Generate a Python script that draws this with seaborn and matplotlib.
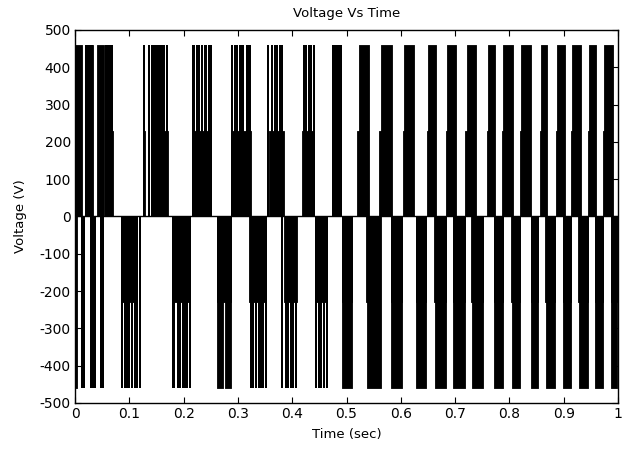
import matplotlib
matplotlib.use("Agg")
import matplotlib.pyplot as plt
import seaborn as sns
import pandas as pd

# levels of the 3-level inverter output (V)
full_level = 460
half_level = 230

# early bursts: single switching pulses to the full level (time in sec)
pos_pulses = [0.020, 0.024, 0.028, 0.031,
              0.057, 0.061, 0.064, 0.068,
              0.127, 0.136, 0.141, 0.145, 0.149, 0.152, 0.156, 0.160, 0.163, 0.169,
              0.217, 0.220, 0.224, 0.228, 0.233, 0.239, 0.242, 0.246, 0.250,
              0.290, 0.295, 0.299, 0.303, 0.306, 0.310, 0.316, 0.319, 0.323,
              0.356, 0.363, 0.369, 0.372, 0.378, 0.382,
              0.422, 0.426, 0.431, 0.435, 0.440,
              0.475, 0.479, 0.483, 0.486, 0.490]
neg_pulses = [0.000, 0.002, 0.013, 0.017,
              0.029, 0.033, 0.037, 0.048, 0.051,
              0.086, 0.092, 0.095, 0.099, 0.105, 0.110, 0.114, 0.119,
              0.180, 0.183, 0.189, 0.193, 0.198, 0.202, 0.207, 0.211,
              0.325, 0.328, 0.334, 0.338, 0.343, 0.347, 0.352,
              0.382, 0.389, 0.393, 0.398, 0.402, 0.407,
              0.444, 0.450, 0.453, 0.459, 0.464]

# spans where the output sits at the half level (dense switching)
pos_half = [(0.055, 0.070), (0.125, 0.128), (0.147, 0.171), (0.220, 0.250),
            (0.288, 0.325), (0.358, 0.385), (0.418, 0.440), (0.473, 0.488),
            (0.519, 0.538), (0.560, 0.578), (0.604, 0.620), (0.648, 0.660),
            (0.683, 0.697), (0.719, 0.736), (0.758, 0.771), (0.787, 0.804),
            (0.820, 0.837), (0.857, 0.868), (0.886, 0.899), (0.914, 0.928),
            (0.945, 0.958), (0.972, 0.987)]
neg_half = [(0.028, 0.037), (0.084, 0.114), (0.178, 0.211), (0.261, 0.288),
            (0.321, 0.352), (0.385, 0.409), (0.444, 0.464), (0.492, 0.510),
            (0.536, 0.558), (0.582, 0.602), (0.628, 0.646), (0.661, 0.683),
            (0.697, 0.719), (0.730, 0.752), (0.771, 0.789), (0.802, 0.820),
            (0.839, 0.853), (0.866, 0.884), (0.899, 0.914), (0.927, 0.945),
            (0.958, 0.972), (0.987, 0.998)]

# spans that are solid at the full level (switching too fast to resolve)
pos_full = [(0.000, 0.012), (0.018, 0.024), (0.026, 0.033), (0.040, 0.053),
            (0.523, 0.541), (0.563, 0.583), (0.606, 0.624), (0.650, 0.664),
            (0.685, 0.701), (0.721, 0.739), (0.760, 0.774), (0.789, 0.807),
            (0.822, 0.840), (0.858, 0.870), (0.888, 0.903), (0.916, 0.932),
            (0.947, 0.960), (0.974, 0.991)]
neg_full = [(0.000, 0.003), (0.261, 0.272), (0.277, 0.288), (0.492, 0.510),
            (0.538, 0.563), (0.582, 0.602), (0.628, 0.646), (0.663, 0.683),
            (0.697, 0.719), (0.732, 0.752), (0.771, 0.789), (0.804, 0.820),
            (0.839, 0.853), (0.868, 0.884), (0.899, 0.914), (0.929, 0.945),
            (0.958, 0.972), (0.987, 0.998)]

xticks = [0, 0.1, 0.2, 0.3, 0.4, 0.5, 0.6, 0.7, 0.8, 0.9, 1]
yticks = [-500, -400, -300, -200, -100, 0, 100, 200, 300, 400, 500]

sns.set_theme(style="ticks")
plt.rcParams['font.family'] = ['DejaVu Sans']
plt.rcParams['xtick.direction'] = 'in'
plt.rcParams['ytick.direction'] = 'in'
plt.rcParams['axes.unicode_minus'] = False
for key in ['text.color', 'axes.labelcolor', 'xtick.color', 'ytick.color',
            'xtick.labelcolor', 'ytick.labelcolor']:
    plt.rcParams[key] = 'black'

fig = plt.figure(figsize=(6.22, 4.53), dpi=100)
ax = fig.add_axes([0.1206, 0.1104, 0.8730, 0.8234])

# zero level between bursts
base = pd.DataFrame({"t": [0, 1], "v": [0, 0]})
sns.lineplot(data=base, x="t", y="v", color="black", lw=1.0, ax=ax)

for sign, half, full, pulses in [(1, pos_half, pos_full, pos_pulses),
                                 (-1, neg_half, neg_full, neg_pulses)]:
    for a, b in half:
        ax.fill_between([a, b], 0, sign * half_level, color="black", lw=0.6)
    for a, b in full:
        ax.fill_between([a, b], 0, sign * full_level, color="black", lw=0.6)
    ax.vlines(pulses, 0, sign * full_level, color="black", lw=1.2,
              antialiased=False)

ax.set_xlim(0, 1)
ax.set_ylim(-500, 500)
ax.set_xticks(xticks)
ax.set_xticklabels([f"{x:g}" for x in xticks])
ax.set_yticks(yticks)
ax.tick_params(labelsize=10, length=4, width=0.8, color="black",
               top=True, right=True, pad=3)
for s in ax.spines.values():
    s.set_visible(True)
    s.set_color("black")
    s.set_linewidth(1.0)

ax.set_title("Voltage Vs Time", fontsize=9.5, pad=9.5)
ax.set_xlabel("Time (sec)", fontsize=9.5, labelpad=5)
ax.set_ylabel("Voltage (V)", fontsize=9.5, labelpad=9)

fig.savefig("out.png", dpi=100)
